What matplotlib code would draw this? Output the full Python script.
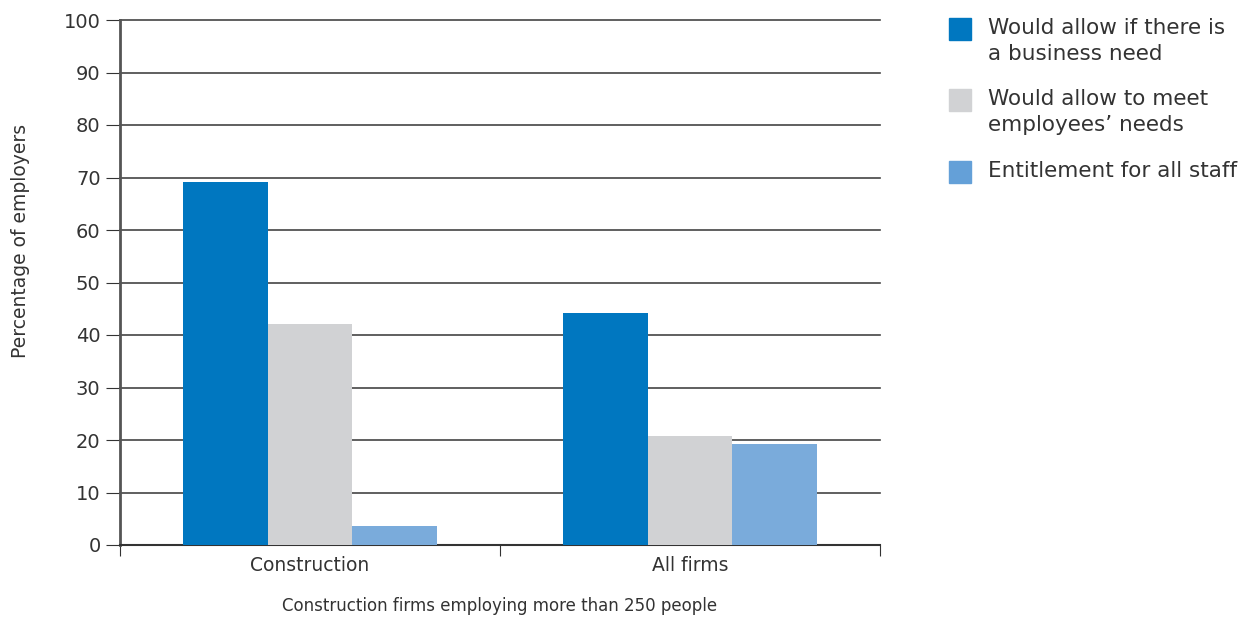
import numpy as np
import matplotlib.pyplot as plt
from matplotlib.patches import Rectangle

plt.rcParams['font.family'] = ['DejaVu Sans']

categories = ['Construction', 'All firms']
series_names = ['Would allow if there is\na business need',
                'Would allow to meet\nemployees\u2019 needs',
                'Entitlement for all staff']
business_need = [69.1, 44.2]
employee_needs = [42.1, 20.8]
entitlement = [3.6, 19.2]

bar_colors = ['#0077c0', '#d1d2d4', '#7aabdb']
legend_colors = ['#0077c0', '#d1d2d4', '#64a0d8']
text_color = '#333333'

W, H = 1246, 620
fig = plt.figure(figsize=(W / 100, H / 100), dpi=100)
ax = fig.add_axes([120 / W, (H - 545) / H, 760 / W, 525 / H])

x = np.arange(len(categories))
width = 0.223
for i, vals in enumerate([business_need, employee_needs, entitlement]):
    ax.bar(x + (i - 1) * width, vals, width, color=bar_colors[i], zorder=3)

ax.set_xlim(-0.5, 1.5)
ax.set_ylim(0, 100)
ax.set_yticks(np.arange(0, 101, 10))
ax.yaxis.grid(True, color='#444444', linewidth=1.2, zorder=0)
ax.set_axisbelow(True)
for gl in ax.get_ygridlines():
    gl.set_clip_on(False)

for side in ['top', 'right']:
    ax.spines[side].set_visible(False)
ax.spines['left'].set_color('#555555')
ax.spines['left'].set_linewidth(2)
ax.spines['bottom'].set_color('#333333')
ax.spines['bottom'].set_linewidth(1.5)

ax.set_xticks([-0.5, 0.5, 1.5], minor=False)
ax.set_xticklabels([])
ax.set_xticks(x, minor=True)
ax.set_xticklabels(categories, minor=True)
ax.tick_params(axis='x', which='major', length=8, color='#333333', direction='out')
ax.tick_params(axis='x', which='minor', length=0, pad=8, labelsize=13.5,
               labelcolor=text_color)
ax.tick_params(axis='y', length=10, color='#333333', pad=4, labelsize=14,
               labelcolor=text_color)

ax.set_xlabel('Construction firms employing more than 250 people',
              fontsize=12, color=text_color, labelpad=16)
ax.set_ylabel('Percentage of employers', fontsize=13.5, color=text_color)
ax.yaxis.set_label_coords(-0.118, 0.58)

# legend drawn by hand: square beside wrapped label
legend_tops = [18, 89, 161]
for name, col, top in zip(series_names, legend_colors, legend_tops):
    fig.patches.append(Rectangle((949 / W, (H - top - 22) / H), 22 / W, 22 / H,
                                 transform=fig.transFigure, color=col))
    fig.text(988 / W, (H - top + 0) / H, name, fontsize=15.5, color=text_color,
             va='top', ha='left', linespacing=1.35)

fig.savefig('out.png', dpi=100)
